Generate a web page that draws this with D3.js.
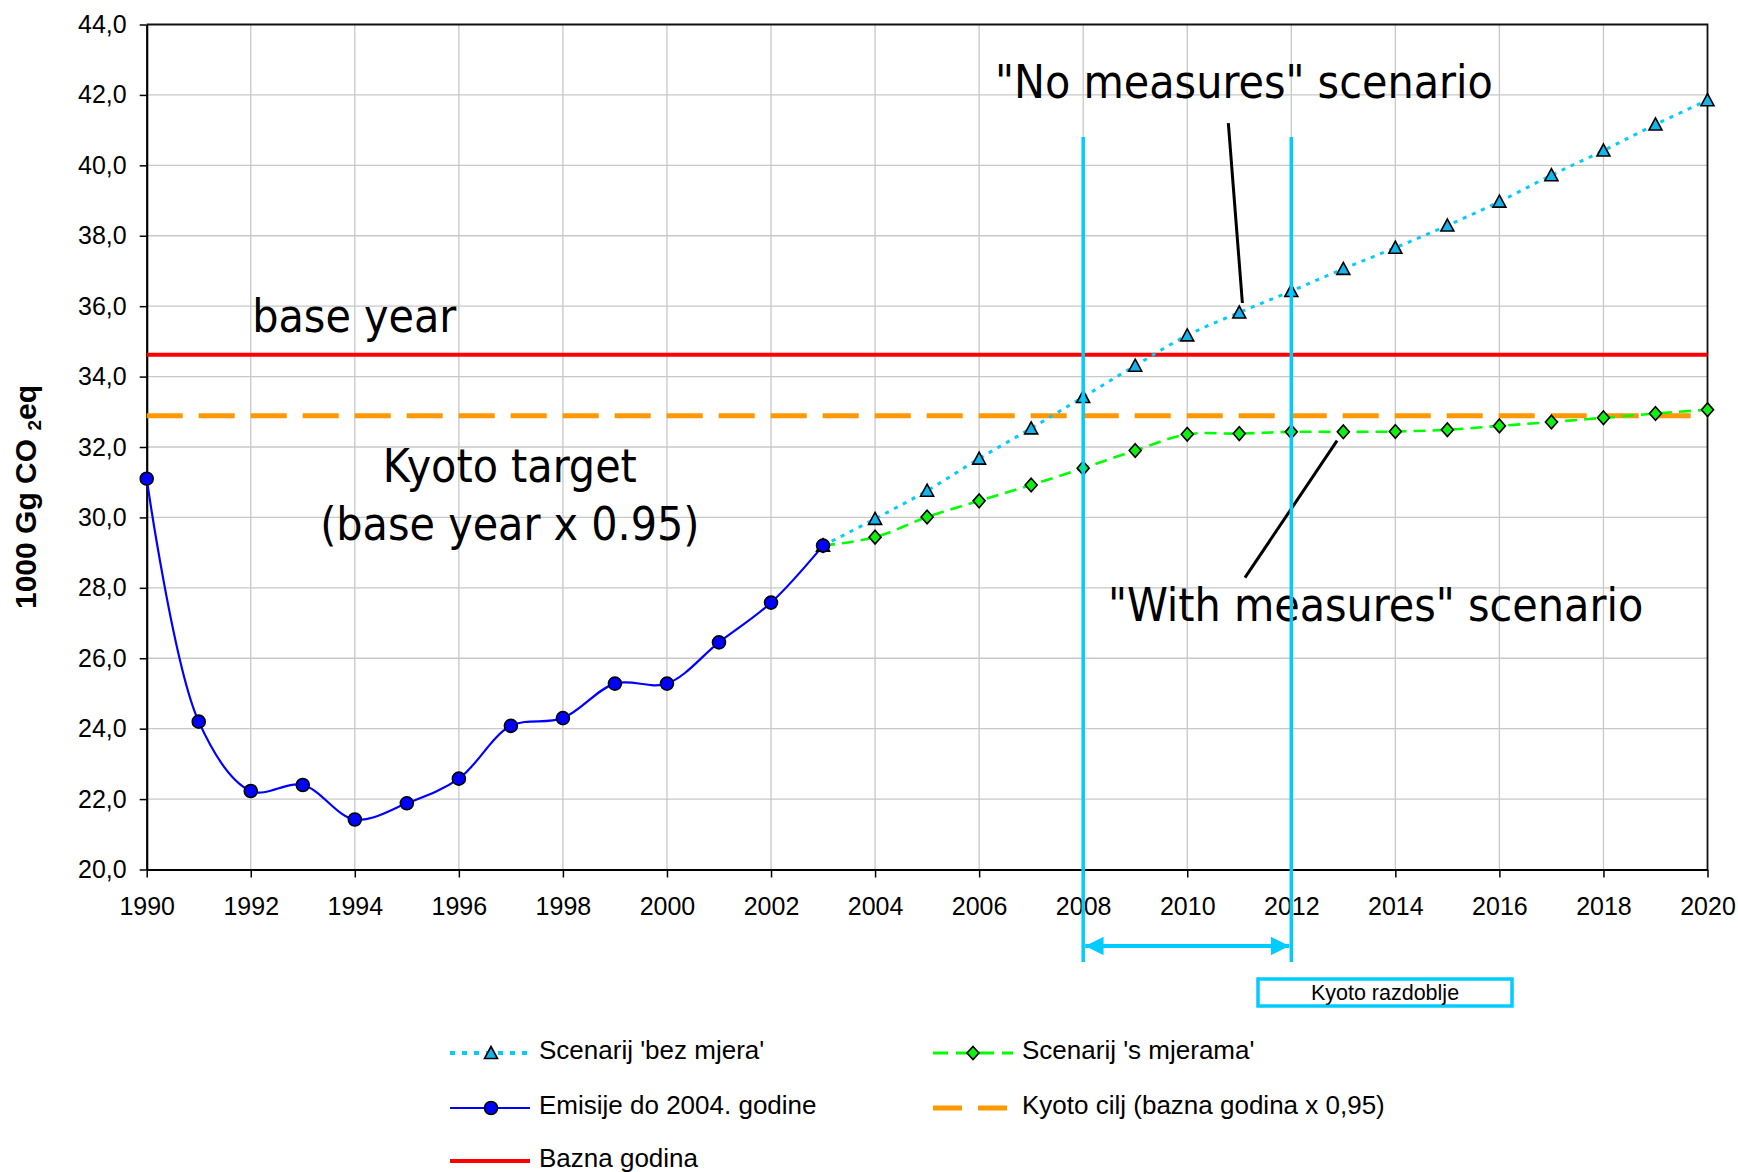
<!DOCTYPE html>
<html>
<head>
<meta charset="utf-8">
<script src="https://cdn.jsdelivr.net/npm/d3@7"></script>
<style>
  html, body { margin: 0; padding: 0; background: #fff; }
  svg { display: block; }
  .tick text { font-family: "Liberation Sans", Arial, sans-serif; font-size: 25px; fill: #000; }
  .ann { font-family: "DejaVu Sans Condensed", "DejaVu Sans", sans-serif; font-stretch: condensed; font-size: 46px; fill: #000; }
  .leg { font-family: "Liberation Sans", Arial, sans-serif; font-size: 26px; fill: #000; }
</style>
</head>
<body>
<svg id="chart" width="1738" height="1172"></svg>
<script>
// data
const emisijeGodine = [1990, 1991, 1992, 1993, 1994, 1995, 1996, 1997, 1998, 1999, 2000, 2001, 2002, 2003];
const emisije = [31.1, 24.2, 22.23, 22.4, 21.42, 21.88, 22.58, 24.08, 24.3, 25.28, 25.28, 26.45, 27.58, 29.2];

const scenarijGodine = [2003, 2004, 2005, 2006, 2007, 2008, 2009, 2010, 2011, 2012, 2013, 2014, 2015, 2016, 2017, 2018, 2019, 2020];
const bezMjera = [29.2, 29.96, 30.76, 31.67, 32.53, 33.42, 34.31, 35.17, 35.82, 36.43, 37.06, 37.66, 38.29, 38.97, 39.72, 40.42, 41.16, 41.85];
const sMjerama = [29.2, 29.44, 30.01, 30.47, 30.92, 31.4, 31.9, 32.36, 32.38, 32.43, 32.43, 32.44, 32.49, 32.6, 32.71, 32.83, 32.95, 33.06];

const baznaGodina = 34.62;
const kyotoCilj = 32.89;
const kyotoRazdoblje = [2008, 2012];

const yTicks = [20, 22, 24, 26, 28, 30, 32, 34, 36, 38, 40, 42, 44];
const xTicks = [1990, 1992, 1994, 1996, 1998, 2000, 2002, 2004, 2006, 2008, 2010, 2012, 2014, 2016, 2018, 2020];

const legendItems = ["Scenarij 'bez mjera'", "Scenarij 's mjerama'", "Emisije do 2004. godine", "Kyoto cilj (bazna godina x 0,95)", "Bazna godina"];

var plot = {left: 146.7, right: 1707.5, top: 24.5, bottom: 869.5};
var svg;

document.addEventListener('DOMContentLoaded', function() {
  svg = d3.select("#chart");
  drawChart();
});

function triangle(s) { return "M0," + (-s) + "L" + s + "," + (s * 0.85) + "L" + (-s) + "," + (s * 0.85) + "Z"; }
function diamond(w, h) { return "M0," + (-h) + "L" + w + ",0L0," + h + "L" + (-w) + ",0Z"; }

function drawChart() {
  svg.selectAll("*").remove();

  const x = d3.scaleLinear().domain([1990, 2020]).range([plot.left, plot.right]);
  const y = d3.scaleLinear().domain([20, 44]).range([plot.bottom, plot.top]);

  // grid
  svg.append("g").selectAll("line")
    .data(yTicks.filter(d => d > 20 && d < 44))
    .join("line")
    .attr("x1", plot.left).attr("x2", plot.right)
    .attr("y1", d => y(d)).attr("y2", d => y(d))
    .attr("stroke", "#c8c8c8").attr("stroke-width", 1.3);
  svg.append("g").selectAll("line")
    .data(xTicks.filter(d => d > 1990 && d < 2020))
    .join("line")
    .attr("x1", d => x(d)).attr("x2", d => x(d))
    .attr("y1", plot.top).attr("y2", plot.bottom)
    .attr("stroke", "#c8c8c8").attr("stroke-width", 1.3);

  // frame top / right
  svg.append("path")
    .attr("d", `M${plot.left},${plot.top}H${plot.right}V${plot.bottom}`)
    .attr("fill", "none").attr("stroke", "#111").attr("stroke-width", 1.8);

  // axes
  const yAxis = d3.axisLeft(y).tickValues(yTicks).tickSize(7).tickSizeOuter(0).tickPadding(13)
    .tickFormat(d => d.toFixed(1).replace(".", ","));
  const gy = svg.append("g").attr("transform", `translate(${plot.left},0)`).call(yAxis);
  gy.select(".domain").attr("stroke", "#000").attr("stroke-width", 2.2);
  gy.selectAll(".tick line").attr("stroke", "#000").attr("stroke-width", 1.5);

  const xAxis = d3.axisBottom(x).tickValues(xTicks).tickSize(8).tickSizeOuter(0).tickPadding(20)
    .tickFormat(d3.format("d"));
  const gx = svg.append("g").attr("transform", `translate(0,${plot.bottom})`).call(xAxis);
  gx.select(".domain").attr("stroke", "#000").attr("stroke-width", 2.2);
  gx.selectAll(".tick line").attr("stroke", "#000").attr("stroke-width", 1.5);
  gx.selectAll(".tick text").attr("dy", "0.71em");

  // y axis title
  const yt = svg.append("text")
    .attr("transform", "translate(36,497) rotate(-90)")
    .attr("text-anchor", "middle")
    .style("font-family", "'Liberation Sans', Arial, sans-serif")
    .style("font-weight", "bold").style("font-size", "30px");
  yt.append("tspan").text("1000 Gg CO ");
  yt.append("tspan").text("2").style("font-size", "19px").attr("dy", 5);
  yt.append("tspan").text("eq").attr("dy", -5);

  // kyoto target and base year
  svg.append("line")
    .attr("x1", plot.left).attr("x2", plot.right)
    .attr("y1", y(kyotoCilj)).attr("y2", y(kyotoCilj))
    .attr("stroke", "#ff9900").attr("stroke-width", 5).attr("stroke-dasharray", "36,16");
  svg.append("line")
    .attr("x1", plot.left).attr("x2", plot.right)
    .attr("y1", y(baznaGodina)).attr("y2", y(baznaGodina))
    .attr("stroke", "#ff0000").attr("stroke-width", 3.8);

  const line = d3.line().curve(d3.curveCatmullRom.alpha(0.5)).x(d => x(d[0])).y(d => y(d[1]));
  const bezData = scenarijGodine.map((g, i) => [g, bezMjera[i]]);
  const sData = scenarijGodine.map((g, i) => [g, sMjerama[i]]);
  const eData = emisijeGodine.map((g, i) => [g, emisije[i]]);

  svg.append("path").attr("d", line(bezData))
    .attr("fill", "none").attr("stroke", "#00ccff").attr("stroke-width", 3).attr("stroke-dasharray", "4,6");
  svg.append("path").attr("d", line(sData))
    .attr("fill", "none").attr("stroke", "#00ff00").attr("stroke-width", 2.6).attr("stroke-dasharray", "12,7");
  svg.append("path").attr("d", line(eData))
    .attr("fill", "none").attr("stroke", "#0000ff").attr("stroke-width", 2.2);

  // markers
  svg.append("g").selectAll("path").data(bezData).join("path")
    .attr("transform", d => `translate(${x(d[0])},${y(d[1])})`)
    .attr("d", triangle(6.5))
    .attr("fill", "#14b4ec").attr("stroke", "#000").attr("stroke-width", 1.6);
  svg.append("g").selectAll("path").data(sData).join("path")
    .attr("transform", d => `translate(${x(d[0])},${y(d[1])})`)
    .attr("d", diamond(6, 6.8))
    .attr("fill", "#11ee11").attr("stroke", "#000").attr("stroke-width", 1.6);
  svg.append("g").selectAll("circle").data(eData).join("circle")
    .attr("cx", d => x(d[0])).attr("cy", d => y(d[1])).attr("r", 6.5)
    .attr("fill", "#0000ff").attr("stroke", "#000").attr("stroke-width", 1.6);

  // annotations
  svg.append("text").attr("class", "ann").attr("text-anchor", "middle")
    .attr("x", x(1993.99)).attr("y", y(35.27)).text("base year");
  svg.append("text").attr("class", "ann").attr("text-anchor", "middle")
    .attr("x", x(1996.98)).attr("y", y(31.02)).text("Kyoto target");
  svg.append("text").attr("class", "ann").attr("text-anchor", "middle")
    .attr("x", x(1996.98)).attr("y", y(29.36)).text("(base year x 0.95)");
  svg.append("text").attr("class", "ann").attr("text-anchor", "middle")
    .attr("x", x(2011.09)).attr("y", y(41.91)).text("\"No measures\" scenario");
  svg.append("text").attr("class", "ann").attr("text-anchor", "middle")
    .attr("x", x(2013.62)).attr("y", y(27.06)).text("\"With measures\" scenario");

  svg.append("line")
    .attr("x1", x(2010.79)).attr("y1", y(41.2)).attr("x2", x(2011.06)).attr("y2", y(36.09))
    .attr("stroke", "#000").attr("stroke-width", 3);
  svg.append("line")
    .attr("x1", x(2012.88)).attr("y1", y(32.18)).attr("x2", x(2011.11)).attr("y2", y(28.29))
    .attr("stroke", "#000").attr("stroke-width", 3);

  // kyoto period
  svg.append("g").selectAll("line").data(kyotoRazdoblje).join("line")
    .attr("x1", d => x(d)).attr("x2", d => x(d))
    .attr("y1", 137).attr("y2", 962)
    .attr("stroke", "#00ccff").attr("stroke-width", 3.5);

  const defs = svg.append("defs");
  defs.append("marker").attr("id", "ah").attr("viewBox", "0 0 10 10")
    .attr("refX", 10).attr("refY", 5).attr("markerWidth", 4.6).attr("markerHeight", 4.6)
    .attr("markerUnits", "strokeWidth").attr("orient", "auto-start-reverse")
    .append("path").attr("d", "M0,0L10,5L0,10Z").attr("fill", "#00ccff");
  svg.append("line")
    .attr("x1", x(kyotoRazdoblje[0]) + 2).attr("x2", x(kyotoRazdoblje[1]) - 2)
    .attr("y1", 946).attr("y2", 946)
    .attr("stroke", "#00ccff").attr("stroke-width", 4)
    .attr("marker-start", "url(#ah)").attr("marker-end", "url(#ah)");

  svg.append("rect").attr("x", 1258).attr("y", 979).attr("width", 254).attr("height", 27)
    .attr("fill", "#fff").attr("stroke", "#00ccff").attr("stroke-width", 3.5);
  svg.append("text").attr("x", 1385).attr("y", 1000).attr("text-anchor", "middle")
    .style("font-family", "'Liberation Sans', Arial, sans-serif").style("font-size", "21.5px")
    .text("Kyoto razdoblje");

  // legend
  const lg = svg.append("g");
  const col1 = 450, col2 = 933, sw = 80, rows = [1053, 1108, 1161];
  function legText(xx, yy, t) {
    lg.append("text").attr("class", "leg").attr("x", xx + 89).attr("y", yy + 6).text(t);
  }
  lg.append("line").attr("x1", col1).attr("x2", col1 + sw).attr("y1", rows[0]).attr("y2", rows[0])
    .attr("stroke", "#00ccff").attr("stroke-width", 4).attr("stroke-dasharray", "5,7");
  lg.append("path").attr("transform", `translate(${col1 + 41},${rows[0]})`).attr("d", triangle(6.5))
    .attr("fill", "#14b4ec").attr("stroke", "#000").attr("stroke-width", 1.6);
  legText(col1, rows[0], legendItems[0]);

  lg.append("line").attr("x1", col2).attr("x2", col2 + sw).attr("y1", rows[0]).attr("y2", rows[0])
    .attr("stroke", "#00ff00").attr("stroke-width", 3).attr("stroke-dasharray", "15,8");
  lg.append("path").attr("transform", `translate(${col2 + 40},${rows[0]})`).attr("d", diamond(6, 6.5))
    .attr("fill", "#11ee11").attr("stroke", "#000").attr("stroke-width", 1.6);
  legText(col2, rows[0], legendItems[1]);

  lg.append("line").attr("x1", col1).attr("x2", col1 + sw).attr("y1", rows[1]).attr("y2", rows[1])
    .attr("stroke", "#0000ff").attr("stroke-width", 2.2);
  lg.append("circle").attr("cx", col1 + 41).attr("cy", rows[1]).attr("r", 6.5)
    .attr("fill", "#0000ff").attr("stroke", "#000").attr("stroke-width", 1.6);
  legText(col1, rows[1], legendItems[2]);

  lg.append("line").attr("x1", col2).attr("x2", col2 + 74).attr("y1", rows[1]).attr("y2", rows[1])
    .attr("stroke", "#ff9900").attr("stroke-width", 5).attr("stroke-dasharray", "29,16");
  legText(col2, rows[1], legendItems[3]);

  lg.append("line").attr("x1", col1).attr("x2", col1 + sw).attr("y1", rows[2]).attr("y2", rows[2])
    .attr("stroke", "#ff0000").attr("stroke-width", 3.8);
  legText(col1, rows[2], legendItems[4]);
}
</script>
</body>
</html>
